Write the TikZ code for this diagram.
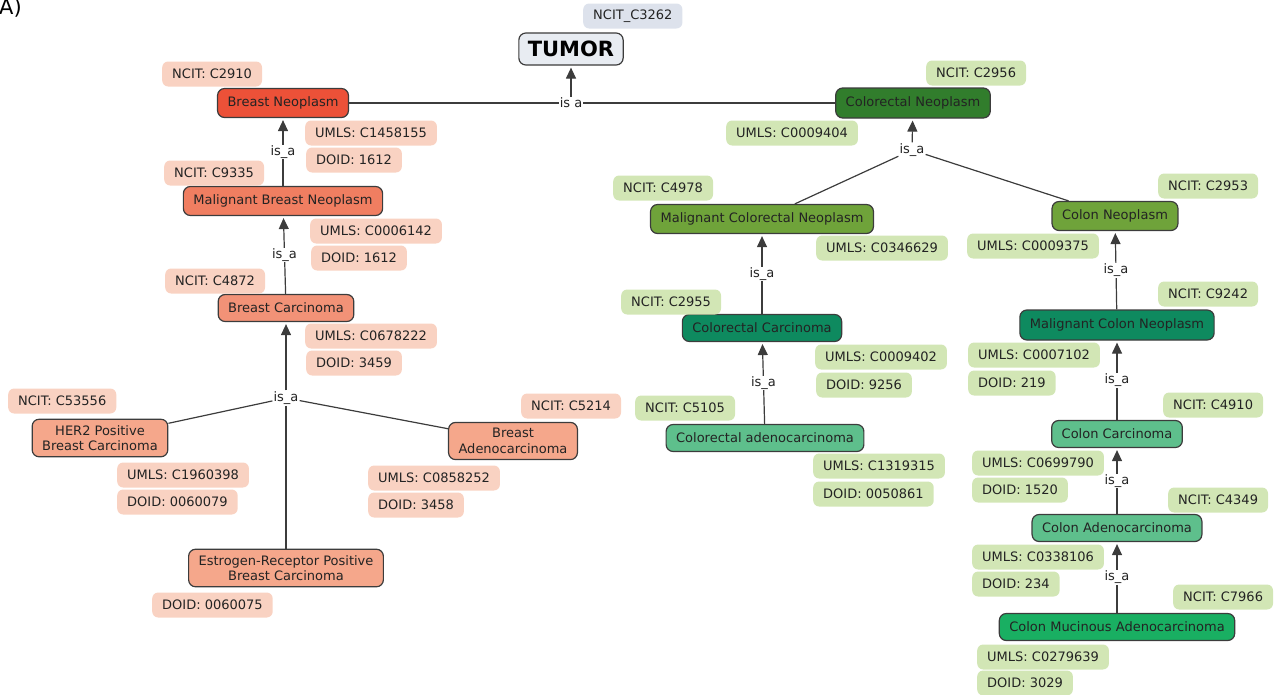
\documentclass[tikz,border=0pt]{standalone}
\usepackage{fontspec}
\setmainfont{DejaVu Sans}
\usepackage{tikz}
\usetikzlibrary{arrows.meta, positioning}
\definecolor{LineColor}{RGB}{60,60,60}
\definecolor{TextColor}{RGB}{35,35,35}
\definecolor{TumorColor}{RGB}{232,236,242}
\definecolor{TagBlue}{RGB}{221,226,236}
\definecolor{TagRed}{RGB}{249,210,194}
\definecolor{TagGreen}{RGB}{210,230,181}
\definecolor{RedA}{RGB}{236,81,56}
\definecolor{RedB}{RGB}{240,126,97}
\definecolor{RedC}{RGB}{242,146,119}
\definecolor{RedD}{RGB}{245,167,139}
\definecolor{GreenA}{RGB}{49,125,44}
\definecolor{GreenB}{RGB}{111,163,58}
\definecolor{GreenC}{RGB}{14,138,95}
\definecolor{GreenD}{RGB}{94,191,140}
\definecolor{GreenE}{RGB}{25,175,98}
\tikzstyle{concept} = [rectangle, rounded corners=7pt, draw=LineColor, line width=1.2pt, text=TextColor, inner xsep=10pt, inner ysep=6pt, minimum height=27pt, align=center, font=\fontsize{13}{15.5}\selectfont]
\tikzstyle{tag} = [rectangle, rounded corners=6pt, anchor=west, inner xsep=10pt, minimum height=25pt, text=TextColor, font=\fontsize{13}{15.5}\selectfont]
\tikzstyle{isa} = [fill=white, inner sep=1pt, text=TextColor, font=\fontsize{13}{15.5}\selectfont]
\tikzstyle{link} = [line width=1.2pt, LineColor]
\tikzstyle{arrow} = [line width=1.2pt, LineColor, -{Triangle[width=10pt,length=11pt]}, shorten >=2pt]

\begin{document}
\begin{tikzpicture}[x=1pt, y=-1pt]
      \useasboundingbox (0,0) rectangle (1279,694);
      \node[anchor=base west, inner sep=0pt, font=\fontsize{21}{24}\selectfont] (panel) at (-1,14) {A)};

      % Root concept
      \node[concept, fill=TumorColor, text=black, inner xsep=9pt, minimum height=32pt, font=\fontsize{21}{24}\selectfont\bfseries] (tumor) at (571,49) {TUMOR};
      \node[tag, fill=TagBlue] (tumorncit) at (583,16) {NCIT\_C3262};

      % Breast branch
      \node[concept, fill=RedA, minimum height=29pt] (breastneo) at (283,103) {Breast Neoplasm};
      \node[concept, fill=RedB, minimum height=29pt] (malbreast) at (283,201) {Malignant Breast Neoplasm};
      \node[concept, fill=RedC] (breastcarc) at (286,308) {Breast Carcinoma};
      \node[concept, fill=RedD] (her2) at (100,438) {HER2 Positive\\Breast Carcinoma};
      \node[concept, fill=RedD] (breastadeno) at (513,441) {Breast\\Adenocarcinoma};
      \node[concept, fill=RedD] (estrogen) at (286,568) {Estrogen-Receptor Positive\\Breast Carcinoma};

      \node[tag, fill=TagRed] at (162,74) {NCIT: C2910};
      \node[tag, fill=TagRed] at (305,133) {UMLS: C1458155};
      \node[tag, fill=TagRed] at (306,160) {DOID: 1612};
      \node[tag, fill=TagRed] at (164,173) {NCIT: C9335};
      \node[tag, fill=TagRed] at (310,231) {UMLS: C0006142};
      \node[tag, fill=TagRed] at (311,258) {DOID: 1612};
      \node[tag, fill=TagRed] at (165,281) {NCIT: C4872};
      \node[tag, fill=TagRed] at (305,336) {UMLS: C0678222};
      \node[tag, fill=TagRed] at (306,363) {DOID: 3459};
      \node[tag, fill=TagRed] at (8,401) {NCIT: C53556};
      \node[tag, fill=TagRed] at (117,475) {UMLS: C1960398};
      \node[tag, fill=TagRed] at (117,502) {DOID: 0060079};
      \node[tag, fill=TagRed] at (521,406) {NCIT: C5214};
      \node[tag, fill=TagRed] at (368,478) {UMLS: C0858252};
      \node[tag, fill=TagRed] at (368,505) {DOID: 3458};
      \node[tag, fill=TagRed] at (152,605) {DOID: 0060075};

      % Colorectal branch
      \node[concept, fill=GreenA, minimum height=30pt] (crneo) at (913,103) {Colorectal Neoplasm};
      \node[concept, fill=GreenB, minimum height=29pt] (malcr) at (762,219) {Malignant Colorectal Neoplasm};
      \node[concept, fill=GreenC] (crcarc) at (762,328) {Colorectal Carcinoma};
      \node[concept, fill=GreenD] (cradeno) at (765,438) {Colorectal adenocarcinoma};
      \node[concept, fill=GreenB, minimum height=29pt] (colonneo) at (1115,216) {Colon Neoplasm};
      \node[concept, fill=GreenC, minimum height=30pt] (malcolon) at (1117,325) {Malignant Colon Neoplasm};
      \node[concept, fill=GreenD] (coloncarc) at (1117,434) {Colon Carcinoma};
      \node[concept, fill=GreenD] (colonadeno) at (1117,528) {Colon Adenocarcinoma};
      \node[concept, fill=GreenE] (colonmuc) at (1117,627) {Colon Mucinous Adenocarcinoma};

      \node[tag, fill=TagGreen] at (926,73) {NCIT: C2956};
      \node[tag, fill=TagGreen] at (726,133) {UMLS: C0009404};
      \node[tag, fill=TagGreen] at (613,188) {NCIT: C4978};
      \node[tag, fill=TagGreen] at (816,248) {UMLS: C0346629};
      \node[tag, fill=TagGreen] at (621,302) {NCIT: C2955};
      \node[tag, fill=TagGreen] at (815,357) {UMLS: C0009402};
      \node[tag, fill=TagGreen] at (816,385) {DOID: 9256};
      \node[tag, fill=TagGreen] at (635,408) {NCIT: C5105};
      \node[tag, fill=TagGreen] at (813,466) {UMLS: C1319315};
      \node[tag, fill=TagGreen] at (813,494) {DOID: 0050861};
      \node[tag, fill=TagGreen] at (1158,186) {NCIT: C2953};
      \node[tag, fill=TagGreen] at (967,246) {UMLS: C0009375};
      \node[tag, fill=TagGreen] at (1158,294) {NCIT: C9242};
      \node[tag, fill=TagGreen] at (968,355) {UMLS: C0007102};
      \node[tag, fill=TagGreen] at (968,383) {DOID: 219};
      \node[tag, fill=TagGreen] at (1163,405) {NCIT: C4910};
      \node[tag, fill=TagGreen] at (972,463) {UMLS: C0699790};
      \node[tag, fill=TagGreen] at (972,490) {DOID: 1520};
      \node[tag, fill=TagGreen] at (1168,500) {NCIT: C4349};
      \node[tag, fill=TagGreen] at (972,557) {UMLS: C0338106};
      \node[tag, fill=TagGreen] at (972,584) {DOID: 234};
      \node[tag, fill=TagGreen] at (1173,597) {NCIT: C7966};
      \node[tag, fill=TagGreen] at (977,657) {UMLS: C0279639};
      \node[tag, fill=TagGreen] at (977,683) {DOID: 3029};

      % Relations
      \node[isa] (topisa) at (571,103) {is a};
      \node[isa] (breasthub) at (286,398) {is\_a};
      \node[isa] (crhub) at (912,150) {is\_a};

      \draw[link] (breastneo) -- (topisa) -- (crneo);
      \draw[arrow] (topisa) -- (tumor);

      \draw[arrow] (malbreast) -- node[isa] {is\_a} (breastneo);
      \draw[arrow] (breastcarc) -- node[isa] {is\_a} (malbreast);
      \draw[arrow] (breasthub) -- (breastcarc);
      \draw[link] (breasthub) -- (her2);
      \draw[link] (breasthub) -- (breastadeno);
      \draw[link] (breasthub) -- (estrogen);

      \draw[arrow] (crhub) -- (crneo);
      \draw[link] (crhub) -- (malcr);
      \draw[link] (crhub) -- (colonneo);
      \draw[arrow] (crcarc) -- node[isa] {is\_a} (malcr);
      \draw[arrow] (cradeno) -- node[isa] {is\_a} (crcarc);
      \draw[arrow] (malcolon) -- node[isa] {is\_a} (colonneo);
      \draw[arrow] (coloncarc) -- node[isa] {is\_a} (malcolon);
      \draw[arrow] (colonadeno) -- node[isa] {is\_a} (coloncarc);
      \draw[arrow] (colonmuc) -- node[isa] {is\_a} (colonadeno);
    \end{tikzpicture}
\end{document}
